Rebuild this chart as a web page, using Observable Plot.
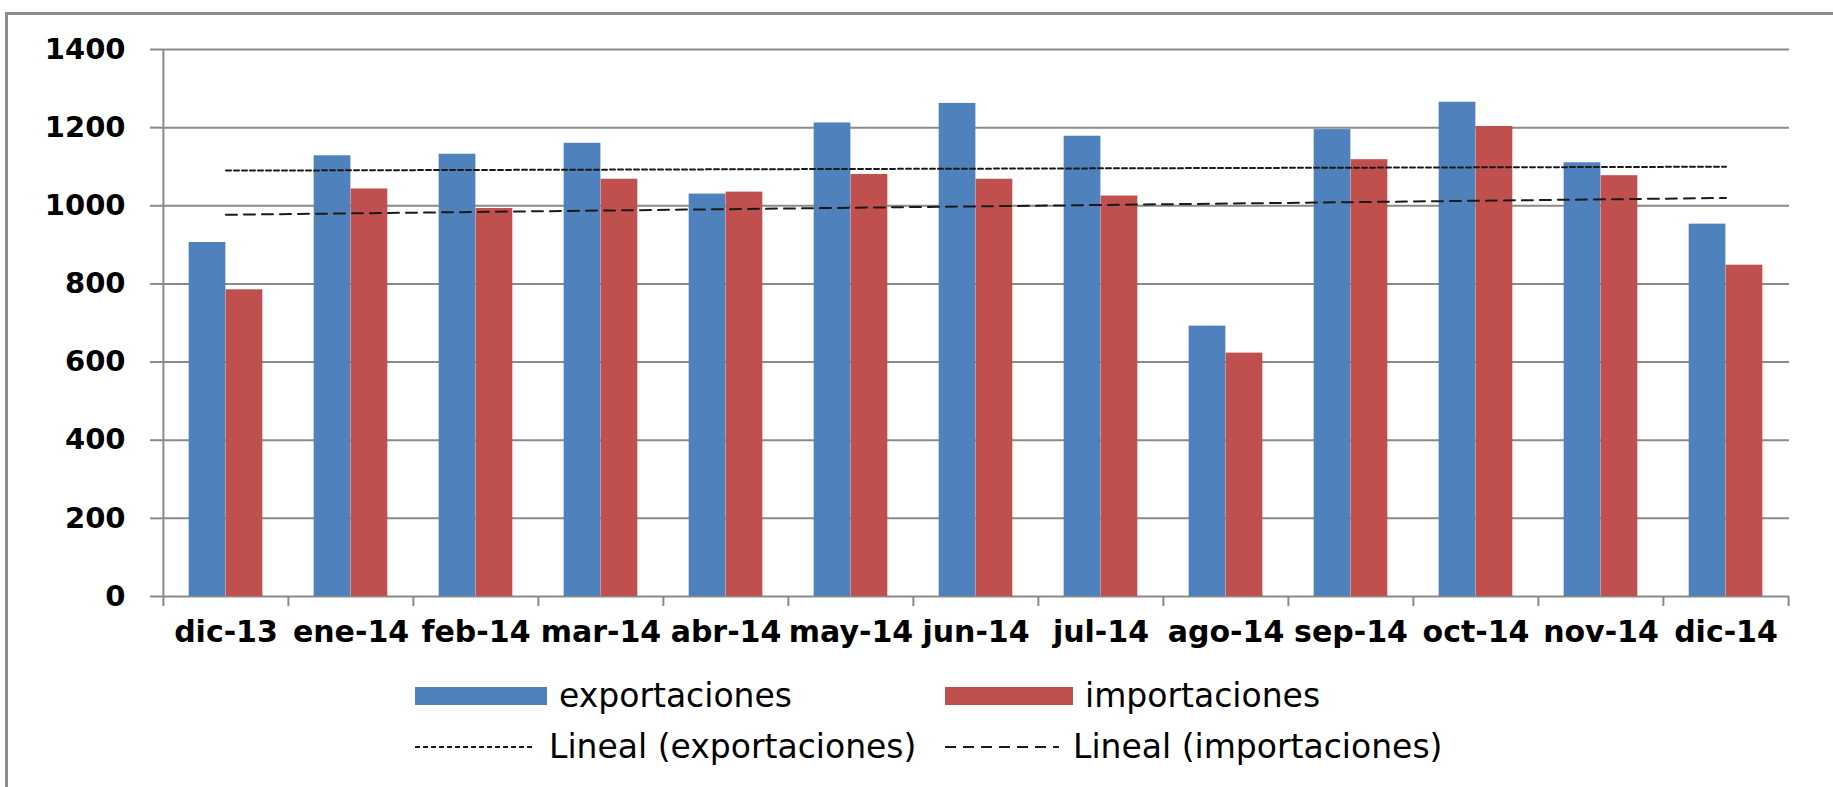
<!DOCTYPE html>
<html><head><meta charset="utf-8">
<script src="https://cdn.jsdelivr.net/npm/d3@7"></script>
<script src="https://cdn.jsdelivr.net/npm/@observablehq/plot@0.6"></script>
<style>
body{margin:0;background:#fff;overflow:hidden;}
#wrap{position:relative;width:1833px;height:787px;overflow:hidden;font-family:"DejaVu Sans",sans-serif;background:#fff;}
#border{position:absolute;left:5px;top:12px;width:2000px;height:1000px;border:3px solid #8c8c8c;box-sizing:border-box;}
#chart{position:absolute;left:0;top:0;}
.item{position:absolute;display:flex;align-items:center;font-size:33px;color:#000;white-space:nowrap;}
.sw{display:inline-block;}
</style></head>
<body><div id="wrap"><div id="border"></div><div id="chart"></div><div id="legend"></div></div>
<script>
const months = ["dic-13","ene-14","feb-14","mar-14","abr-14","may-14","jun-14","jul-14","ago-14","sep-14","oct-14","nov-14","dic-14"];
const exportaciones = [906,1128,1132,1160,1030,1212,1262,1178,692,1195,1265,1110,953];
const importaciones = [785,1043,993,1068,1035,1080,1068,1025,623,1118,1203,1077,848];
const seriesNames = ["exportaciones","importaciones"];
const seriesColors = ["#4f81bd","#c0504d"];
const trendNames = ["Lineal (exportaciones)","Lineal (importaciones)"];
const trendExport = [1090, 1100];
const trendImport = [977, 1020];
const yTicks = [0,200,400,600,800,1000,1200,1400];

const W = 1833, H = 672, mL = 161, mR = 44, mT = 49, mB = 76;
const bw = (W - mL - mR) / months.length;

const expRows = months.map((m,i)=>({month:m, value:exportaciones[i]}));
const impRows = months.map((m,i)=>({month:m, value:importaciones[i]}));
const trendE = [{month:months[0], v:trendExport[0]},{month:months[months.length-1], v:trendExport[1]}];
const trendI = [{month:months[0], v:trendImport[0]},{month:months[months.length-1], v:trendImport[1]}];

const chart = Plot.plot({
  width: W, height: H,
  marginLeft: mL, marginRight: mR, marginTop: mT, marginBottom: mB,
  style: {fontFamily: "DejaVu Sans", background: "transparent", color: "#000"},
  x: {type: "band", domain: months, padding: 0},
  y: {domain: [0, 1400]},
  marks: [
    Plot.ruleY(yTicks, {stroke: "#8a8a8a", strokeWidth: 2}),
    Plot.ruleX([months[0]], {dx: -bw/2, stroke: "#8a8a8a", strokeWidth: 2}),
    Plot.axisY(yTicks, {tickSize: 11, tickPadding: 25, fontSize: 29, fontWeight: "bold", tickFormat: d => String(d), stroke: "#8a8a8a", strokeWidth: 2, fill: "#000", label: null}),
    Plot.axisX({tickSize: 10, dx: -bw/2, tickFormat: () => "", stroke: "#8a8a8a", strokeWidth: 2, label: null}),
    Plot.axisX([months[months.length-1]], {tickSize: 10, dx: bw/2, tickFormat: () => "", stroke: "#8a8a8a", strokeWidth: 2, label: null}),
    Plot.axisX({tickSize: 0, tickPadding: 24, fontSize: 30, fontWeight: "bold", fill: "#000", label: null}),
    Plot.barY(expRows, {x: "month", y: "value", fill: seriesColors[0], insetLeft: bw*0.205, insetRight: bw*0.5}),
    Plot.barY(impRows, {x: "month", y: "value", fill: seriesColors[1], insetLeft: bw*0.5, insetRight: bw*0.205}),
    Plot.line(trendE, {x: "month", y: "v", stroke: "#1a1a1a", strokeWidth: 2, strokeDasharray: "5,3"}),
    Plot.line(trendI, {x: "month", y: "v", stroke: "#1a1a1a", strokeWidth: 2, strokeDasharray: "11,7"})
  ]
});
document.getElementById("chart").appendChild(chart);

// Legend (HTML below the plot area)
const legend = document.getElementById("legend");
function addItem(left, top, swatchHtml, label) {
  const d = document.createElement("div");
  d.className = "item";
  d.style.left = left + "px";
  d.style.top = top + "px";
  d.innerHTML = swatchHtml + `<span>${label}</span>`;
  legend.appendChild(d);
}
const rect = (c, w) => `<span class="sw" style="width:${w}px;height:18px;background:${c};margin-right:12px"></span>`;
const dash = (w, da) => `<svg width="${w}" height="6" style="margin-right:14px"><line x1="0" y1="3" x2="${w}" y2="3" stroke="#1a1a1a" stroke-width="2" stroke-dasharray="${da}"/></svg>`;
addItem(415, 676, rect(seriesColors[0], 132), seriesNames[0]);
addItem(945, 676, rect(seriesColors[1], 128), seriesNames[1]);
addItem(415, 727, dash(120, "5,3"), trendNames[0]);
addItem(945, 727, dash(114, "11,7"), trendNames[1]);
</script>
</body></html>
